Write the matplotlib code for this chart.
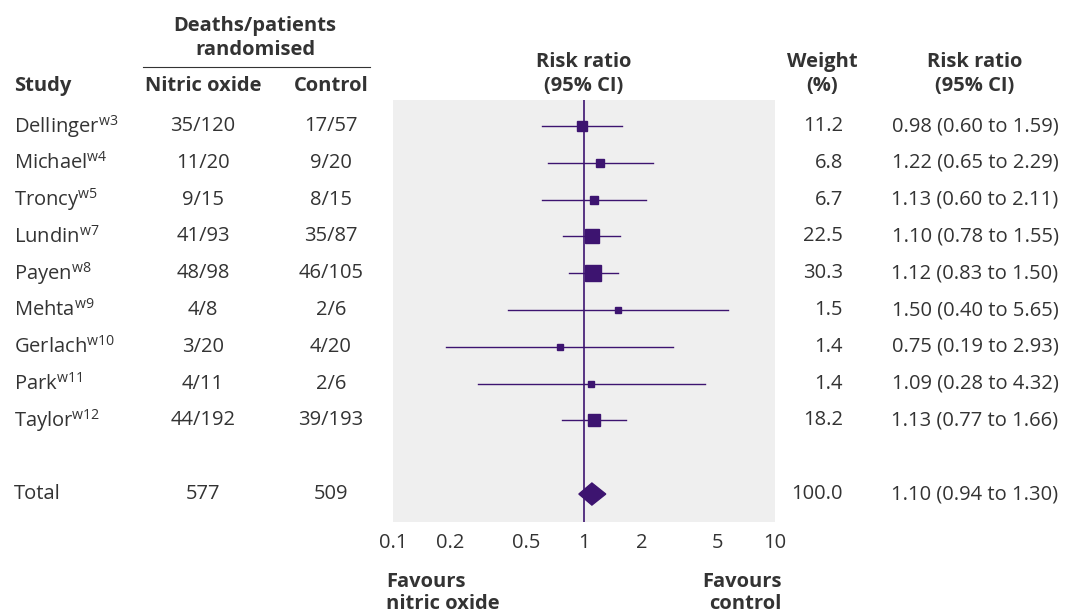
import matplotlib.pyplot as plt
import matplotlib.transforms as mtransforms
from matplotlib.patches import Polygon

plt.rcParams['font.family'] = ['Open Sans', 'DejaVu Sans']
plt.rcParams['mathtext.default'] = 'regular'

studies = ["Dellinger", "Michael", "Troncy", "Lundin", "Payen", "Mehta", "Gerlach", "Park", "Taylor"]
refs = ["w3", "w4", "w5", "w7", "w8", "w9", "w10", "w11", "w12"]
nitric = ["35/120", "11/20", "9/15", "41/93", "48/98", "4/8", "3/20", "4/11", "44/192"]
control = ["17/57", "9/20", "8/15", "35/87", "46/105", "2/6", "4/20", "2/6", "39/193"]
rr = [0.98, 1.22, 1.13, 1.10, 1.12, 1.50, 0.75, 1.09, 1.13]
lo = [0.60, 0.65, 0.60, 0.78, 0.83, 0.40, 0.19, 0.28, 0.77]
hi = [1.59, 2.29, 2.11, 1.55, 1.50, 5.65, 2.93, 4.32, 1.66]
weight = [11.2, 6.8, 6.7, 22.5, 30.3, 1.5, 1.4, 1.4, 18.2]
total_rr, total_lo, total_hi = 1.10, 0.94, 1.30
total_nitric, total_control = "577", "509"
ticks = [0.1, 0.2, 0.5, 1, 2, 5, 10]
tick_labels = ["0.1", "0.2", "0.5", "1", "2", "5", "10"]

W, H = 1074, 615
purple = "#3d1470"
txt = "#333333"
fs = 14.5

fig = plt.figure(figsize=(W / 100, H / 100), dpi=100)
ax = fig.add_axes([393 / W, 1 - 522 / H, (775 - 393) / W, (522 - 100) / H])
ax.set_facecolor("#efefef")
ax.set_xscale("log")
ax.set_xlim(0.1, 10)
ax.set_ylim(10.76, -0.71)
for s in ax.spines.values():
    s.set_visible(False)
ax.set_yticks([])
ax.set_xticks(ticks)
ax.set_xticklabels(tick_labels, fontsize=fs, color=txt)
ax.minorticks_off()
ax.tick_params(axis="x", length=0, pad=8)
ax.axvline(1, color=purple, lw=1.2)

for i in range(len(studies)):
    ax.plot([lo[i], hi[i]], [i, i], color=purple, lw=1)
    ax.plot(rr[i], i, marker="s", color=purple, ms=4.5 + 0.22 * weight[i], mec=purple)
ax.add_patch(Polygon([(total_lo, 10), (total_rr, 9.7), (total_hi, 10), (total_rr, 10.3)],
                     closed=True, color=purple))

tr = mtransforms.blended_transform_factory(fig.transFigure, ax.transData)
for i in range(len(studies)):
    fig.text(14 / W, i, f"{studies[i]}$^{{{refs[i]}}}$", transform=tr, fontsize=fs, color=txt, va="center")
    fig.text(203 / W, i, nitric[i], transform=tr, fontsize=fs, color=txt, va="center", ha="center")
    fig.text(331 / W, i, control[i], transform=tr, fontsize=fs, color=txt, va="center", ha="center")
    fig.text(843 / W, i, f"{weight[i]:.1f}", transform=tr, fontsize=fs, color=txt, va="center", ha="right")
    fig.text(975 / W, i, f"{rr[i]:.2f} ({lo[i]:.2f} to {hi[i]:.2f})", transform=tr, fontsize=fs,
             color=txt, va="center", ha="center")
fig.text(14 / W, 10, "Total", transform=tr, fontsize=fs, color=txt, va="center")
fig.text(203 / W, 10, total_nitric, transform=tr, fontsize=fs, color=txt, va="center", ha="center")
fig.text(331 / W, 10, total_control, transform=tr, fontsize=fs, color=txt, va="center", ha="center")
fig.text(843 / W, 10, "100.0", transform=tr, fontsize=fs, color=txt, va="center", ha="right")
fig.text(975 / W, 10, f"{total_rr:.2f} ({total_lo:.2f} to {total_hi:.2f})", transform=tr,
         fontsize=fs, color=txt, va="center", ha="center")

def head(x, y, s, ha="center"):
    fig.text(x / W, 1 - y / H, s, fontsize=fs, color=txt, fontweight="bold", ha=ha, va="center")

head(14, 86, "Study", ha="left")
head(255, 26, "Deaths/patients")
head(255, 50, "randomised")
fig.add_artist(plt.Line2D([143 / W, 370 / W], [1 - 67 / H, 1 - 67 / H], color=txt, lw=0.8))
head(203, 86, "Nitric oxide")
head(331, 86, "Control")
head(584, 62, "Risk ratio")
head(584, 86, "(95% CI)")
head(822, 62, "Weight")
head(822, 86, "(%)")
head(975, 62, "Risk ratio")
head(975, 86, "(95% CI)")
head(386, 582, "Favours", ha="left")
head(386, 604, "nitric oxide", ha="left")
head(782, 582, "Favours", ha="right")
head(782, 604, "control", ha="right")

fig.savefig("out.png", dpi=100)
